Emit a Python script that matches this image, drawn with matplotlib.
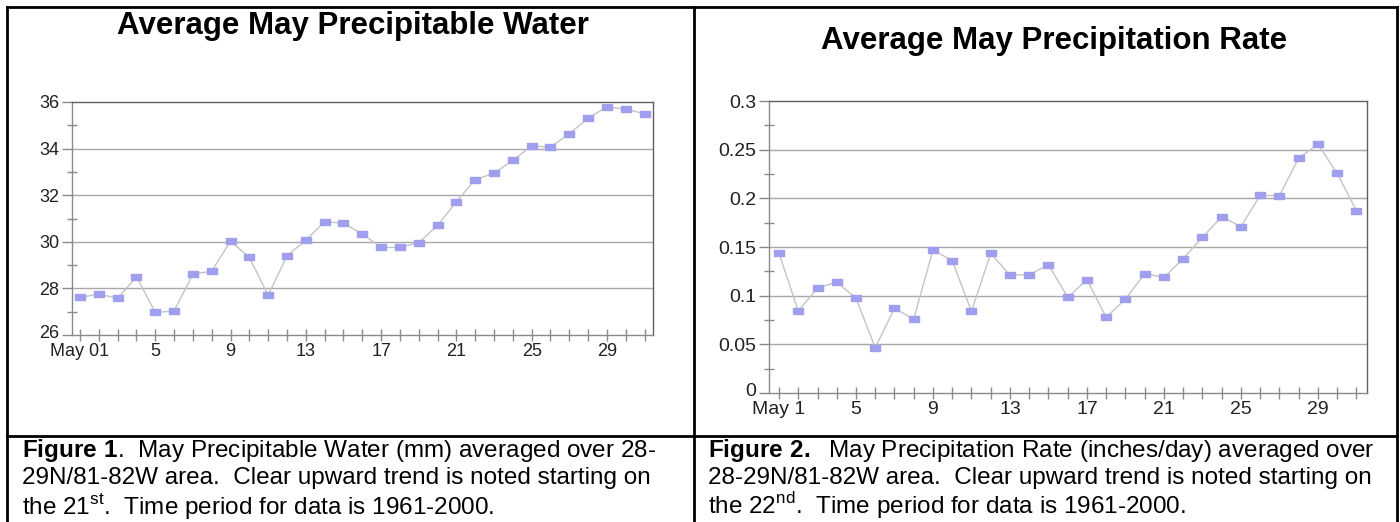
import matplotlib
matplotlib.use("Agg")
import matplotlib.pyplot as plt
from matplotlib.lines import Line2D
import matplotlib.transforms as mtransforms

plt.rcParams['font.family'] = ['Liberation Sans', 'DejaVu Sans']
plt.rcParams['mathtext.fontset'] = 'custom'
plt.rcParams['mathtext.rm'] = 'Liberation Sans'
plt.rcParams['mathtext.bf'] = 'Liberation Sans:bold'

days = list(range(1, 32))
precip_water = [27.61, 27.76, 27.57, 28.50, 26.97, 27.03, 28.61, 28.74, 30.03, 29.33,
                27.70, 29.40, 30.07, 30.86, 30.80, 30.34, 29.76, 29.76, 29.96, 30.71,
                31.71, 32.67, 32.94, 33.50, 34.11, 34.06, 34.64, 35.30, 35.79, 35.69, 35.50]
precip_rate = [0.1435, 0.0842, 0.1079, 0.1140, 0.0973, 0.0466, 0.0870, 0.0760, 0.1470, 0.1360,
               0.0839, 0.1435, 0.1210, 0.1216, 0.1317, 0.0983, 0.1164, 0.0777, 0.0966, 0.1226,
               0.1188, 0.1380, 0.1600, 0.1810, 0.1710, 0.2030, 0.2027, 0.2414, 0.2555, 0.2257, 0.1873]
xtick_days = [1, 5, 9, 13, 17, 21, 25, 29]
xlabels_left = ['May 01', '5', '9', '13', '17', '21', '25', '29']
xlabels_right = ['May 1', '5', '9', '13', '17', '21', '25', '29']
yticks_left = [26, 28, 30, 32, 34, 36]
yticks_right = [0, 0.05, 0.1, 0.15, 0.2, 0.25, 0.3]
yticklabels_right = ['0', '0.05', '0.1', '0.15', '0.2', '0.25', '0.3']

title_left = 'Average May Precipitable Water'
title_right = 'Average May Precipitation Rate'
caption_left = [r'$\bf{Figure\ 1}$.  May Precipitable Water (mm) averaged over 28-',
                '29N/81-82W area.  Clear upward trend is noted starting on',
                r'the 21$^{\rm st}$.  Time period for data is 1961-2000.']
caption_right = [r'$\bf{Figure\ 2.}$  May Precipitation Rate (inches/day) averaged over',
                 '28-29N/81-82W area.  Clear upward trend is noted starting on',
                 r'the 22$^{\rm nd}$.  Time period for data is 1961-2000.']

W, H = 1400, 522
fig = plt.figure(figsize=(14, 5.22), dpi=100)

def fx(px):
    return px / W

def fy(py):
    return 1 - py / H

marker_verts = [(-1.6, -1.0), (1.6, -1.0), (1.6, 1.0), (-1.6, 1.0), (-1.6, -1.0)]
mcolor = '#9f9fee'
lcolor = '#c4c4c4'
grid_c = '#a8a8a8'
axis_c = '#8a8a8a'
frame_c = '#606060'


def make_axes(l, t, r, b, yvals, xlim, ylim, yticks, yticklabels, xlabels, minor_y, fs):
    ax = fig.add_axes([fx(l), fy(b), fx(r - l), (b - t) / H])
    ax.plot(days, yvals, color=lcolor, lw=1.0, zorder=3)
    ax.plot(days, yvals, linestyle='none', marker=marker_verts, markersize=7,
            markerfacecolor=mcolor, markeredgecolor=mcolor, zorder=4)
    ax.set_xlim(*xlim)
    ax.set_ylim(*ylim)
    ax.set_yticks(yticks)
    ax.set_yticklabels(yticklabels)
    ax.set_yticks(minor_y, minor=True)
    ax.set_xticks(days, minor=True)
    ax.set_xticks(xtick_days)
    ax.set_xticklabels(xlabels)
    for g in yticks[1:-1]:
        ax.axhline(g, color=grid_c, lw=1.0, zorder=1)
    ax.tick_params(axis='y', which='major', direction='out', length=7, width=1,
                   color=axis_c, labelsize=fs, labelcolor='#222222', pad=2)
    ax.tick_params(axis='y', which='minor', direction='inout', length=7, width=1,
                   color=axis_c)
    ax.tick_params(axis='x', which='both', direction='inout', length=8, width=1,
                   color=axis_c, labelsize=fs, labelcolor='#222222', pad=2)
    ax.spines['left'].set_color(axis_c)
    ax.spines['bottom'].set_color(axis_c)
    ax.spines['top'].set_color(frame_c)
    ax.spines['right'].set_color(frame_c)
    for s in ax.spines.values():
        s.set_linewidth(1.0)
    # nudge lowest y label up a little so it sits just above the first x label
    lab = ax.get_yticklabels()[0]
    lab.set_transform(lab.get_transform() +
                      mtransforms.ScaledTranslation(0, 4 / 100, fig.dpi_scale_trans))
    return ax


make_axes(72, 102, 653, 335, precip_water, (0.575, 31.45), (26, 36),
          yticks_left, [str(v) for v in yticks_left], xlabels_left,
          [27, 29, 31, 33, 35], 13)
make_axes(769, 101, 1367, 393, precip_rate, (0.48, 31.55), (0, 0.3),
          yticks_right, yticklabels_right, xlabels_right,
          [0.025, 0.075, 0.125, 0.175, 0.225, 0.275], 14)

# titles
fig.text(fx(353), fy(26), title_left, ha='center', va='center', fontsize=22.5,
         fontweight='bold', color='black')
fig.text(fx(1054), fy(41), title_right, ha='center', va='center', fontsize=22.5,
         fontweight='bold', color='black')

# captions
line_y = [450, 478, 506]
for i, s in enumerate(caption_left):
    fig.text(fx(22), fy(line_y[i]), s, ha='left', va='center', fontsize=17.5, color='black')
for i, s in enumerate(caption_right):
    fig.text(fx(708), fy(line_y[i]), s, ha='left', va='center', fontsize=17.5, color='black')

# table frame
lw = 2.0
def fline(x0, y0, x1, y1):
    fig.add_artist(Line2D([fx(x0), fx(x1)], [fy(y0), fy(y1)], color='black', lw=lw,
                          solid_capstyle='projecting'))

fline(7, 7, 1397, 7)
fline(7, 7, 7, 522)
fline(1397, 7, 1397, 522)
fline(694, 7, 694, 522)
fline(7, 436, 1397, 436)

fig.savefig('out.png', dpi=100)
